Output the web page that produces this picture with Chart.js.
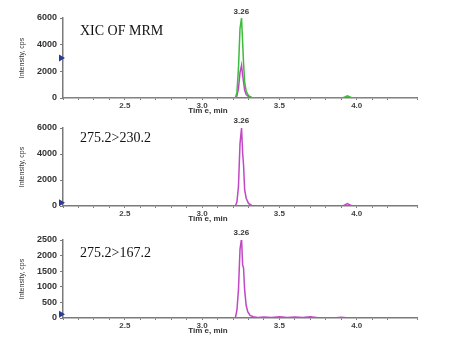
<!DOCTYPE html>
<html>
<head>
<meta charset="utf-8">
<script src="https://cdn.jsdelivr.net/npm/chart.js@4"></script>
<style>
  body { margin: 0; background: #fff; }
  .panel { position: absolute; left: 0; width: 450px; }
</style>
</head>
<body>
<div class="panel" style="top:0;height:115px"><canvas id="c1"></canvas></div>
<div class="panel" style="top:115px;height:110px"><canvas id="c2"></canvas></div>
<div class="panel" style="top:225px;height:120px"><canvas id="c3"></canvas></div>
<script>
// retention time axis (min)
const timeMin = 2.1;
const timeMax = 4.39;
const peakTime = 3.26;

// XIC of all MRM transitions
const xicTime = [2.1, 3.2, 3.215, 3.225, 3.235, 3.245, 3.255, 3.262, 3.268, 3.275, 3.285, 3.3, 3.32, 3.34, 3.9, 3.92, 3.94, 3.96, 3.98, 4.39];
const xicGreen = [0, 0, 0, 400, 2200, 5200, 6000, 4200, 2600, 1200, 500, 180, 40, 0, 0, 60, 160, 60, 0, 0];
const xicMagenta = [0, 0, 0, 150, 700, 1900, 2450, 1700, 1200, 600, 250, 100, 20, 0, 0, 20, 60, 20, 0, 0];

// 275.2>230.2
const t230 = [2.1, 3.2, 3.215, 3.225, 3.235, 3.245, 3.255, 3.262, 3.268, 3.275, 3.285, 3.3, 3.32, 3.34, 3.9, 3.92, 3.94, 3.96, 3.98, 4.39];
const i230 = [0, 0, 0, 300, 1500, 4800, 6000, 4100, 3150, 1250, 600, 200, 40, 0, 0, 60, 180, 60, 0, 0];

// 275.2>167.2
const t167 = [2.1, 3.2, 3.215, 3.225, 3.235, 3.245, 3.255, 3.262, 3.268, 3.275, 3.285, 3.295, 3.31, 3.33, 3.36, 3.4, 3.45, 3.5, 3.55, 3.6, 3.65, 3.7, 3.75, 3.85, 3.9, 3.95, 4.39];
const i167 = [0, 0, 0, 250, 900, 2200, 2550, 1700, 1600, 900, 400, 200, 80, 40, 20, 35, 15, 40, 20, 35, 15, 40, 10, 0, 25, 0, 0];

const axisGray = '#7a7a7a';
const tickFont = { family: 'Liberation Sans', size: 9, weight: 'bold' };
const xTickFont = { family: 'Liberation Sans', size: 8, weight: 'bold' };

const pts = (xs, ys) => xs.map((x, i) => ({ x: x, y: ys[i] }));

// label text, peak tag, x title and the left marker
const extras = {
  id: 'extras',
  afterDraw(chart) {
    const o = chart.options.plugins.extras;
    const { ctx, chartArea, scales } = chart;
    ctx.save();
    ctx.fillStyle = '#111';
    ctx.font = '14px "Liberation Serif"';
    ctx.textBaseline = 'alphabetic';
    ctx.fillText(o.label, 80, o.labelY);

    ctx.font = 'bold 8px "Liberation Sans"';
    ctx.fillStyle = '#333';
    ctx.textAlign = 'center';
    ctx.fillText(peakTime.toFixed(2), scales.x.getPixelForValue(peakTime) - 1, chartArea.top - 1 + o.tagDy);
    ctx.fillText('Tim e, min', 208, chartArea.bottom + 15);

    const my = scales.y.getPixelForValue(o.marker);
    ctx.fillStyle = '#2b3a9a';
    ctx.beginPath();
    ctx.moveTo(59, my - 3.5);
    ctx.lineTo(65, my);
    ctx.lineTo(59, my + 3.5);
    ctx.closePath();
    ctx.fill();
    ctx.restore();
  }
};

function makeChart(id, datasets, yMax, yStep, pad, o) {
  return new Chart(document.getElementById(id), {
    type: 'line',
    data: { datasets: datasets },
    plugins: [extras],
    options: {
      responsive: true,
      maintainAspectRatio: false,
      animation: false,
      layout: { padding: pad },
      elements: { point: { radius: 0 }, line: { borderWidth: 1.5, tension: 0 } },
      plugins: { legend: { display: false }, tooltip: { enabled: false }, extras: o },
      scales: {
        x: {
          type: 'linear', min: timeMin, max: timeMax,
          afterFit: (s) => { s.height = 17; },
          border: { color: axisGray, width: 1.5 },
          grid: { drawOnChartArea: false, tickLength: 2, color: axisGray },
          ticks: {
            stepSize: 0.1, color: '#444', font: xTickFont, padding: 1, maxRotation: 0, autoSkip: false,
            callback: (v) => Math.abs(v * 2 - Math.round(v * 2)) < 1e-6 ? v.toFixed(1) : ''
          }
        },
        y: {
          min: 0, max: yMax,
          afterFit: (s) => { s.width = 45; },
          border: { color: axisGray, width: 1.5 },
          grid: { drawOnChartArea: false, tickLength: 3, color: axisGray },
          ticks: { stepSize: yStep, color: '#333', font: tickFont, padding: 3, callback: (v) => String(v) },
          title: { display: true, text: 'Intensity, cps', color: '#333', font: { family: 'Liberation Sans', size: 7 }, padding: 0 }
        }
      }
    }
  });
}

const green = '#3dbb3d';
const magenta = '#c048c4';

makeChart('c1', [
  { data: pts(xicTime, xicGreen), borderColor: green },
  { data: pts(xicTime, xicMagenta), borderColor: magenta }
], 6000, 2000, { left: 18, right: 33, top: 18, bottom: 0 }, { label: 'XIC OF MRM', labelY: 35, tagDy: -3, marker: 3000 });

makeChart('c2', [
  { data: pts(t230, i230), borderColor: magenta }
], 6000, 2000, { left: 18, right: 33, top: 13, bottom: 2 }, { label: '275.2>230.2', labelY: 27, tagDy: -4, marker: 250 });

makeChart('c3', [
  { data: pts(t167, i167), borderColor: magenta }
], 2500, 500, { left: 18, right: 33, top: 15, bottom: 10 }, { label: '275.2>167.2', labelY: 32, tagDy: -4, marker: 120 });
</script>
</body>
</html>
